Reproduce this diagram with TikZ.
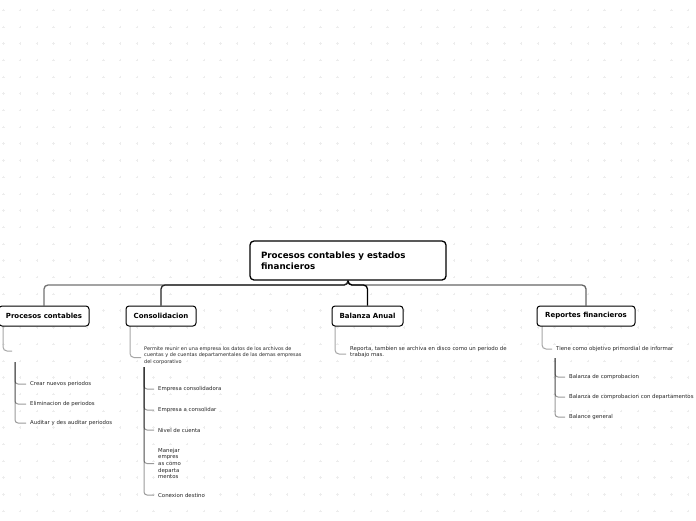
\documentclass[tikz,border=0pt]{standalone}
\usepackage{fontspec}
\setmainfont{DejaVu Sans}
\pgfdeclarelayer{grid}
\pgfdeclarelayer{links}
\pgfsetlayers{grid,links,main}
\begin{document}
\begin{tikzpicture}[x=1pt,y=-1pt,
  rootbox/.style={draw=black,line width=1.3pt,rounded corners=4pt,fill=white,
    minimum width=196pt,minimum height=39pt,text width=174pt,align=left,
    font=\bfseries\fontsize{8.7}{11}\selectfont,inner sep=0pt},
  childbox/.style={draw=black,line width=1pt,rounded corners=3pt,fill=white,
    minimum height=20pt,inner sep=0pt,font=\bfseries\fontsize{7}{8}\selectfont},
  leaf/.style={anchor=west,inner sep=0pt,align=left,text=black!85,
    font=\fontsize{5.4}{6.7}\selectfont},
  bus/.style={line width=1.3pt,rounded corners=4pt},
  sub/.style={draw=black!35,line width=1pt,rounded corners=4pt},
  tick/.style={draw=black,draw opacity=0.4,line width=1pt,rounded corners=3pt}]
\useasboundingbox (0,0) rectangle (696,520);
\begin{pgfonlayer}{grid}
\fill[white] (0,0) rectangle (696,520);
\foreach \i in {0,...,41}{
  \foreach \j in {0,...,31}{
    \draw[black!7,line width=0.4pt] ({3.3+16.7*\i-1.2},{10+16.7*\j}) -- ++(2.4,0)
      ({3.3+16.7*\i},{10+16.7*\j-1.2}) -- ++(0,2.4);
  }
}
\end{pgfonlayer}
% nodes
\node[rootbox] (root) at (348,260.5) {Procesos contables y estados\\financieros};
\node[childbox,minimum width=90pt] (pc) at (44,316) {Procesos contables};
\node[childbox,minimum width=70pt] (co) at (161,316) {Consolidacion};
\node[childbox,minimum width=71pt] (ba) at (367.5,316) {Balanza Anual};
\node[childbox,minimum width=98pt] (rf) at (586,316) {Reportes financieros};
\coordinate (hub) at (348,285);
\begin{pgfonlayer}{links}
\draw[bus,black!55] (root.south) -- (hub) -| (pc.north);
\draw[bus,black!60] (root.south) -- (hub) -| (rf.north);
\draw[bus,black!85] (root.south) -- (hub) -| (co.north);
\draw[bus,black] (root.south) -- (hub) -| (ba.north);
\end{pgfonlayer}
% ---- Procesos contables
\coordinate (pcempty) at (12,351);
\node[leaf] (pc1) at (30,384) {Crear nuevos periodos};
\node[leaf] (pc2) at (30,404) {Eliminacion de periodos};
\node[leaf] (pc3) at (30,423) {Auditar y des auditar periodos};
\coordinate (pctop) at (15,362);
% ---- Consolidacion
\node[leaf,font=\fontsize{4.95}{6.6}\selectfont] (co0) at (144,355.5) {Permite reunir en una empresa los datos de los archivos de\\cuentas y de cuentas departamentales de las demas empresas\\del corporativo};
\node[leaf] (co1) at (158,389) {Empresa consolidadora};
\node[leaf] (co2) at (158,410) {Empresa a consolidar};
\node[leaf] (co3) at (158,430) {Nivel de cuenta};
\node[leaf] (co4) at (158,463.5) {Manejar\\empres\\as como\\departa\\mentos};
\node[leaf] (co5) at (158,495) {Conexion destino};
\coordinate (cotop) at (144,367);
% ---- Balanza Anual
\node[leaf] (ba0) at (350,352) {Reporta, tambien se archiva en disco como un periodo de\\trabajo mas.};
% ---- Reportes financieros
\node[leaf] (rf0) at (556,349) {Tiene como objetivo primordial de informar};
\node[leaf] (rf1) at (569,377) {Balanza de comprobacion};
\node[leaf] (rf2) at (569,397) {Balanza de comprobacion con departamentos};
\node[leaf] (rf3) at (569,417) {Balance general};
\coordinate (rftop) at (555,358);
\begin{pgfonlayer}{links}
\draw[sub] (3,326) |- (pcempty);
\foreach \n in {pc1,pc2,pc3}{\draw[tick] (pctop) |- ([xshift=-4pt]\n.west);}
\draw[sub] (130,326) |- ([xshift=-3pt,yshift=-2pt]co0.west);
\foreach \n in {co1,co2,co3,co4,co5}{\draw[tick] (cotop) |- ([xshift=-4pt]\n.west);}
\draw[sub] (335,326) |- ([xshift=-4pt,yshift=-2pt]ba0.west);
\draw[sub] (542,326) |- ([xshift=-4pt]rf0.west);
\foreach \n in {rf1,rf2,rf3}{\draw[tick] (rftop) |- ([xshift=-4pt]\n.west);}
\end{pgfonlayer}
\end{tikzpicture}
\end{document}
